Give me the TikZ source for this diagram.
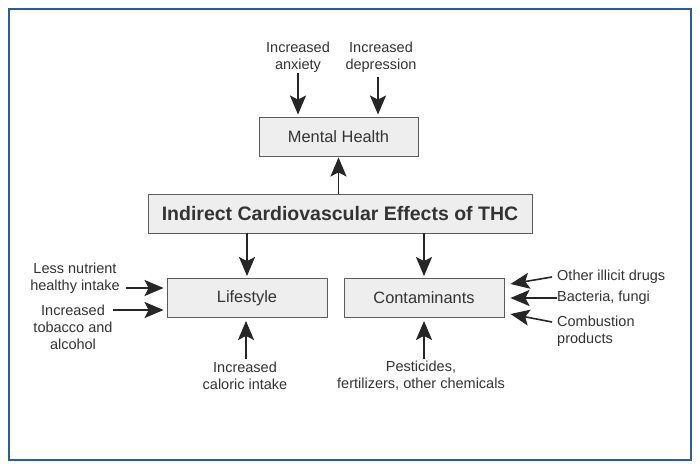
\documentclass[tikz,border=0pt]{standalone}
\usepackage{fontspec}
\setmainfont{Liberation Sans}
\usetikzlibrary{arrows.meta}
\definecolor{framebl}{HTML}{2C5E96}
\definecolor{boxgray}{HTML}{EEEEEE}
\definecolor{inkgray}{HTML}{333333}
\tikzset{tip/.tip={Stealth[length=19pt,width=16pt,inset=4pt]}}
\begin{document}
\begin{tikzpicture}[x=1pt,y=1pt,
  box/.style={draw=inkgray!80,fill=boxgray,line width=0.9pt,minimum height=39pt,inner sep=0pt,text=inkgray},
  lbl/.style={text=inkgray,align=center,inner sep=1pt,font=\fontsize{14.5}{17}\selectfont},
  arr/.style={-tip,line width=1.6pt,draw=black!85}]
\useasboundingbox (0,0) rectangle (700,-470);
\draw [framebl,line width=2pt] (9,-9) rectangle (691,-460);

% boxes
\node [box,minimum width=159pt,font=\fontsize{16.4}{19}\selectfont] (mental) at (338.5,-136.5) {Mental Health};
\node [box,minimum width=384pt,font=\fontsize{19.5}{22}\selectfont\bfseries] (thc) at (340,-213.5) {Indirect Cardiovascular Effects of THC};
\node [box,minimum width=160pt,font=\fontsize{16.4}{19}\selectfont] (life) at (247,-298) {Lifestyle};
\node [box,minimum width=160pt,font=\fontsize{16.4}{19}\selectfont] (cont) at (424,-298) {Contaminants};

% labels
\node [lbl] (anx) at (298,-57) {Increased\\anxiety};
\node [lbl] (dep) at (381,-57) {Increased\\depression};
\node [lbl] (nutr) at (75,-278.5) {Less nutrient\\healthy intake};
\node [lbl] (tob) at (73,-327) {Increased\\tobacco and\\alcohol};
\node [lbl] (calo) at (245,-375.5) {Increased\\caloric intake};
\node [lbl] (pest) at (421,-375.5) {Pesticides,\\fertilizers, other chemicals};
\node [lbl,anchor=west] (drug) at (556,-277) {Other illicit drugs};
\node [lbl,anchor=west] (bact) at (556,-298) {Bacteria, fungi};
\node [lbl,anchor=west,align=left] (comb) at (556,-331) {Combustion\\products};

% arrow start points
\coordinate (n1) at (126,-288);
\coordinate (t1) at (113,-310);
\coordinate (d1) at (552,-277);
\coordinate (c1) at (552,-322);
\coordinate (dep1) at (378,-77);

% arrows
\draw [arr] (thc.north -| mental) -- ([yshift=-1pt]mental.south);
\draw [arr] (thc.south -| life) -- ([yshift=2pt]life.north);
\draw [arr] (thc.south -| cont) -- ([yshift=2pt]cont.north);
\draw [arr] (anx.south) -- ([yshift=2pt]anx.south |- mental.north);
\draw [arr] (dep1) -- ([yshift=2pt]dep1 |- mental.north);
\draw [arr] (n1) -- ([xshift=-3pt]n1 -| life.west);
\draw [arr] (t1) -- ([xshift=-3pt]t1 -| life.west);
\draw [arr] ([xshift=1pt,yshift=1pt]calo.north) -- ([xshift=1pt,yshift=-3pt]calo.north |- life.south);
\draw [arr] ([xshift=3pt,yshift=1pt]pest.north) -- ([xshift=3pt,yshift=-3pt]pest.north |- cont.south);
\draw [arr] (d1) -- ([xshift=6pt,yshift=-7pt]d1 -| cont.east);
\draw [arr] ([xshift=1pt]bact.west) -- ([xshift=6pt]cont.east);
\draw [arr] (c1) -- ([xshift=6pt,yshift=8pt]c1 -| cont.east);
\end{tikzpicture}
\end{document}
